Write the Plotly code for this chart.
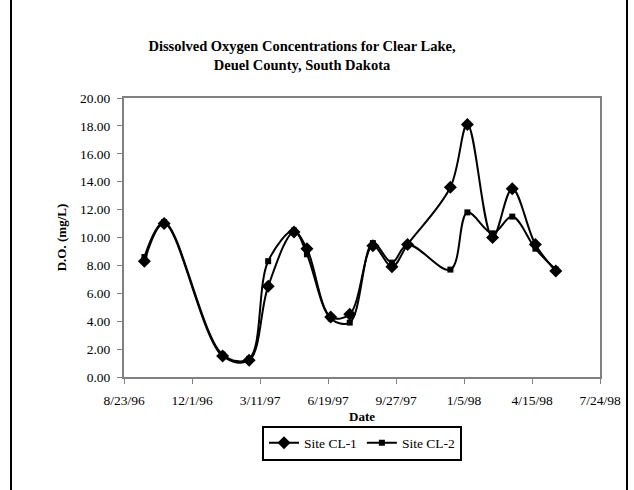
import plotly.graph_objects as go

dates = ["1996-09-22", "1996-10-21", "1997-01-15", "1997-02-23", "1997-03-23",
         "1997-04-30", "1997-05-19", "1997-06-23", "1997-07-21", "1997-08-24",
         "1997-09-21", "1997-10-14", "1997-12-16", "1998-01-10", "1998-02-16",
         "1998-03-17", "1998-04-20", "1998-05-20"]
site_cl1 = [8.3, 11.0, 1.5, 1.2, 6.5, 10.4, 9.2, 4.3, 4.5, 9.4,
            7.9, 9.5, 13.6, 18.1, 10.0, 13.5, 9.5, 7.6]
site_cl2 = [8.6, 11.1, 1.6, 1.3, 8.3, 10.5, 8.8, 4.2, 3.9, 9.6,
            8.2, 9.5, 7.7, 11.8, 10.3, 11.5, 9.2, 7.7]

tick_dates = ["1996-08-23", "1996-12-01", "1997-03-11", "1997-06-19",
              "1997-09-27", "1998-01-05", "1998-04-15", "1998-07-24"]
tick_labels = ["8/23/96", "12/1/96", "3/11/97", "6/19/97",
               "9/27/97", "1/5/98", "4/15/98", "7/24/98"]
y_ticks = [0, 2, 4, 6, 8, 10, 12, 14, 16, 18, 20]
y_labels = ["%.2f" % v for v in y_ticks]

font = "Liberation Serif, Times New Roman, serif"

fig = go.Figure()
fig.add_trace(go.Scatter(
    x=dates, y=site_cl1, name="Site CL-1", mode="lines+markers",
    line=dict(color="black", width=2, shape="spline", smoothing=1),
    marker=dict(symbol="diamond", size=10, color="black"),
))
fig.add_trace(go.Scatter(
    x=dates, y=site_cl2, name="Site CL-2", mode="lines+markers",
    line=dict(color="black", width=2, shape="spline", smoothing=1),
    marker=dict(symbol="square", size=6, color="black"),
))

L, R, T, B = 124, 34, 98, 113
W, H = 634, 490
pw, ph = W - L - R, H - T - B

def px(x):
    return (x - L) / pw

def py(y):
    return (H - B - y) / ph

fig.update_layout(
    width=W, height=H,
    margin=dict(l=L, r=R, t=T, b=B),
    paper_bgcolor="white", plot_bgcolor="white",
    font=dict(family=font, size=13, color="black"),
    title=dict(
        text="<b>Dissolved Oxygen Concentrations for Clear Lake,<br>Deuel County, South Dakota</b>",
        x=302 / W, xanchor="center", y=1 - 51 / H, yanchor="middle",
        font=dict(family=font, size=14.5, color="black"),
    ),
    xaxis=dict(
        type="date", range=[tick_dates[0], tick_dates[-1]],
        tickmode="array", tickvals=tick_dates, ticktext=tick_labels,
        ticks="outside", ticklen=5, tickcolor="#808080", ticklabelstandoff=5,
        showline=True, linecolor="#808080", linewidth=2, mirror=True,
        showgrid=False, zeroline=False,
        tickfont=dict(family=font, size=13.5),
        title=dict(text="<b>Date</b>", font=dict(family=font, size=13), standoff=5),
    ),
    yaxis=dict(
        range=[0, 20], tickmode="array", tickvals=y_ticks, ticktext=y_labels,
        ticks="outside", ticklen=5, tickcolor="#808080", ticklabelstandoff=4,
        showline=True, linecolor="#808080", linewidth=2, mirror=True,
        showgrid=False, zeroline=False,
        tickfont=dict(family=font, size=13.5),
        title=dict(text="<b>D.O. (mg/L)</b>", font=dict(family=font, size=13), standoff=10),
    ),
    legend=dict(
        orientation="h", x=0.5, xanchor="center", y=py(443), yanchor="middle",
        bordercolor="black", borderwidth=2, bgcolor="white",
        font=dict(family=font, size=13.5), itemwidth=30,
        tracegroupgap=0,
    ),
    showlegend=True,
)

for xp in (11, 627):
    fig.add_shape(type="line", xref="paper", yref="paper",
                  x0=px(xp), x1=px(xp), y0=py(H), y1=py(0),
                  line=dict(color="black", width=2))

fig.write_html("out.html")
